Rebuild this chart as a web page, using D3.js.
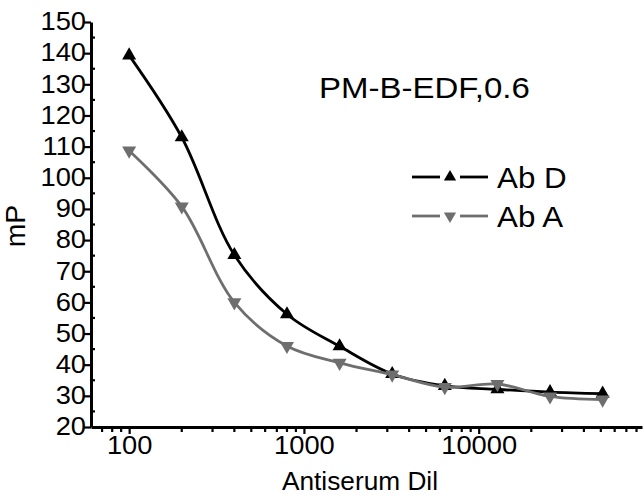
<!DOCTYPE html>
<html>
<head>
<meta charset="utf-8">
<script src="https://cdnjs.cloudflare.com/ajax/libs/d3/7.8.5/d3.min.js"></script>
<style>
  body { margin: 0; background: #fff; }
  svg text { font-family: "Liberation Sans", Arial, sans-serif; fill: #000; }
</style>
</head>
<body>
<div id="chart"></div>
<script>
// dilution points
const dilutions = [100, 200, 400, 800, 1600, 3200, 6400, 12800, 25600, 51200]
const abD = [139.3, 113, 75.2, 56.2, 45.9, 37, 33.2, 32.1, 31.2, 30.7]
const abA = [108.7, 90.8, 60, 46, 40.6, 36.8, 32.8, 33.8, 29.8, 28.8]
const yTicks = [20, 30, 40, 50, 60, 70, 80, 90, 100, 110, 120, 130, 140, 150]
const xTicks = [100, 1000, 10000]
const seriesNames = ["Ab D", "Ab A"]
const titleText = "PM-B-EDF,0.6"

const W = 643, H = 495

const svg = d3.select("#chart").append("svg").attr("width", W).attr("height", H)

const x = d3.scaleLog().domain([60.5, 86000]).range([91, 642])
const y = d3.scaleLinear().domain([20, 150]).range([427, 22])

// the original text is a bit wider than Arial
function widen(sel, f) {
    f = f || 1.05
    sel.each(function() {
        const w = this.getComputedTextLength()
        d3.select(this).attr("textLength", w * f).attr("lengthAdjust", "spacingAndGlyphs")
    })
}

// y axis: major outward, minor inward
const yMinor = d3.range(25, 150, 10)
svg.append("g").selectAll("line").data(yMinor).enter().append("line")
    .attr("x1", 91).attr("x2", 95).attr("y1", d => y(d)).attr("y2", d => y(d))
    .attr("stroke", "#000").attr("stroke-width", 2.2)
const yAxis = svg.append("g").attr("transform", "translate(91,0)")
    .call(d3.axisLeft(y).tickValues(yTicks).tickSize(7).tickSizeOuter(0))
yAxis.select(".domain").attr("stroke-width", 3)
yAxis.selectAll(".tick line").attr("stroke-width", 2.2)
yAxis.selectAll(".tick text").attr("font-size", 26).attr("x", -5).attr("dy", "0.3em")
    .call(widen)

// x axis: log ticks
const xMinor = []
for (let dec = 10; dec <= 10000; dec *= 10) {
    for (let k = 2; k <= 9; k++) {
        const v = dec * k
        if (v >= 60.5 && v <= 86000) xMinor.push(v)
    }
}
svg.append("g").selectAll("line").data(xMinor).enter().append("line")
    .attr("x1", d => x(d)).attr("x2", d => x(d)).attr("y1", 427).attr("y2", 432)
    .attr("stroke", "#000").attr("stroke-width", 2.2)
const xAxis = svg.append("g").attr("transform", "translate(0,427)")
    .call(d3.axisBottom(x).tickValues(xTicks).tickFormat(d3.format("d")).tickSize(7).tickSizeOuter(0))
xAxis.select(".domain").attr("stroke-width", 3)
xAxis.selectAll(".tick line").attr("stroke-width", 2.2)
xAxis.selectAll(".tick text").attr("font-size", 26).attr("y", 9).attr("dy", "0.71em")
    .call(widen)

// axis titles
svg.append("text").attr("x", 360).attr("y", 490).attr("text-anchor", "middle")
    .attr("font-size", 25).text("Antiserum Dil").call(widen)
svg.append("text").attr("transform", "translate(25,226) rotate(-90)").attr("text-anchor", "middle")
    .attr("font-size", 27).text("mP").call(widen)

// title
svg.append("text").attr("x", 319).attr("y", 98).attr("font-size", 30).text(titleText).call(widen, 1.1)

const colors = ["#000000", "#6e6e6e"]
const line = d3.line()
    .curve(d3.curveCatmullRom.alpha(0.5))
    .x(d => x(d[0]))
    .y(d => y(d[1]))

const tri = d3.symbol().type(d3.symbolTriangle).size(85)

;[abD, abA].forEach((vals, i) => {
    const pts = dilutions.map((d, j) => [d, vals[j]])
    const g = svg.append("g")
    g.append("path").attr("d", line(pts)).attr("fill", "none")
        .attr("stroke", colors[i]).attr("stroke-width", 2.8)
    g.selectAll("path.pt").data(pts).enter().append("path").attr("class", "pt")
        .attr("d", tri)
        .attr("transform", d => `translate(${x(d[0])},${y(d[1])})` + (i == 1 ? " rotate(180)" : ""))
        .attr("fill", colors[i])
})

// legend
const legY = [177, 216]
seriesNames.forEach((name, i) => {
    const g = svg.append("g")
    g.append("line").attr("x1", 412).attr("x2", 440).attr("y1", legY[i]).attr("y2", legY[i])
        .attr("stroke", colors[i]).attr("stroke-width", 2.8)
    g.append("line").attr("x1", 460).attr("x2", 488).attr("y1", legY[i]).attr("y2", legY[i])
        .attr("stroke", colors[i]).attr("stroke-width", 2.8)
    g.append("path").attr("d", d3.symbol().type(d3.symbolTriangle).size(65))
        .attr("transform", `translate(450,${legY[i]})` + (i == 1 ? " rotate(180)" : ""))
        .attr("fill", colors[i])
    g.append("text").attr("x", 497).attr("y", legY[i] + 11).attr("font-size", 29).text(name).call(widen, 1.08)
})
</script>
</body>
</html>
